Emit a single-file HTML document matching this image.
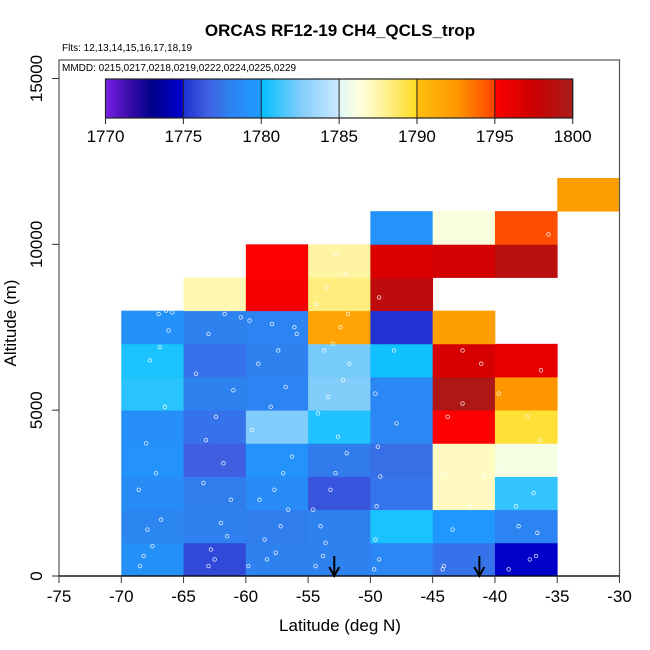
<!DOCTYPE html>
<html><head><meta charset="utf-8"><style>
body{margin:0;background:#fff}
svg{display:block;font-family:"Liberation Sans",sans-serif}
</style></head><body>
<svg id="chart" width="650" height="650" viewBox="0 0 650 650">
<defs>
<linearGradient id="cbgrad" x1="0" x2="1" y1="0" y2="0"></linearGradient>
</defs>
<text x="340" y="36" text-anchor="middle" font-size="17" font-weight="bold">ORCAS RF12-19 CH4_QCLS_trop</text>
<text x="62" y="51" font-size="10">Flts: 12,13,14,15,16,17,18,19</text>
<g id="cells"></g>
<g id="points"></g>
<g id="arrows"></g>
<rect x="59" y="60" width="560.5" height="516" fill="none" stroke="#555" stroke-width="1.2"/>
<text x="62" y="71" font-size="10">MMDD: 0215,0217,0218,0219,0222,0224,0225,0229</text>
<g id="colorbar"></g>
<g id="xaxis"></g>
<g id="yaxis"></g>
<text x="340" y="631" text-anchor="middle" font-size="17">Latitude (deg N)</text>
<text transform="translate(16,323) rotate(-90)" text-anchor="middle" font-size="17">Altitude (m)</text>
</svg>
<script>
const latBins=[-70,-65,-60,-55,-50,-45,-40,-35];
const altBins=[0,1000,2000,3000,4000,5000,6000,7000,8000,9000,10000,11000];
// values[col][row], null = no data
const colM70=[1779.2,1778.3,1778.8,1779.3,1779.0,1780.8,1780.5,1779.2,null,null,null,null];
const colM65=[1775.8,1778.0,1777.8,1776.5,1777.3,1778.0,1777.3,1778.0,1787.3,null,null,null];
const colM60=[1778.0,1777.8,1778.8,1779.3,1782.5,1778.2,1778.0,1778.2,1795.3,1795.2,null,null];
const colM55=[1778.0,1778.0,1776.2,1777.7,1780.6,1782.6,1782.3,1791.8,1788.3,1787.6,null,null];
const colM50=[1778.4,1780.5,1777.4,1777.2,1778.4,1778.4,1780.3,1775.1,1798.5,1796.8,1779.3,null];
const colM45=[1777.3,1779.8,1787.0,1787.0,1795.0,1799.5,1797.0,1792.2,null,1797.2,1786.3,null];
const colM40=[1774.8,1778.2,1781.0,1786.0,1789.6,1792.6,1796.2,null,null,1798.8,1794.7,null];
const colM35=[null,null,null,null,null,null,null,null,null,null,null,1792.2];
const values=[colM70,colM65,colM60,colM55,colM50,colM45,colM40,colM35];
const cbTicks=[1770,1775,1780,1785,1790,1795,1800];
const xTicks=[-75,-70,-65,-60,-55,-50,-45,-40,-35,-30];
const yTicks=[0,5000,10000,15000];
const ptLat=[-68.5,-68.2,-67.5,-66.8,-67.9,-68.6,-67.2,-68.0,-66.5,-67.7,-66.9,-66.2,-67.0,-66.4,-65.9,-63.0,-62.5,-62.8,-61.5,-62.0,-61.2,-63.4,-61.8,-63.2,-62.4,-61.0,-64.0,-63.0,-61.7,-60.4,-59.8,-58.3,-57.6,-58.5,-57.2,-56.6,-58.9,-57.7,-57.0,-56.3,-59.5,-58.0,-56.8,-59.0,-57.4,-56.1,-59.7,-57.9,-55.9,-54.4,-53.8,-53.6,-54.0,-54.6,-53.2,-52.8,-51.9,-52.6,-54.2,-53.4,-52.2,-51.7,-53.0,-52.4,-54.3,-53.5,-52.0,-52.8,-53.7,-51.8,-49.7,-49.3,-49.6,-49.5,-49.2,-49.4,-47.9,-49.6,-48.1,-49.3,-44.1,-43.4,-42.0,-41.2,-40.9,-44.6,-43.8,-42.6,-41.1,-42.6,-38.9,-37.2,-36.6,-38.3,-36.9,-39.5,-36.4,-37.4,-39.7,-36.3,-35.7,-35.8,-44.2,-36.7,-38.1,-44.0];
const ptAlt=[300,600,900,1700,1400,2600,3100,4000,5100,6500,6900,7400,7900,8000,7950,300,500,800,1200,1600,2300,2800,3400,4100,4800,5600,6100,7300,7900,7800,300,500,700,1100,1500,2000,2300,2600,3100,3600,4400,5100,5700,6400,6800,7500,7700,7600,7300,300,600,1000,1500,2000,2600,3100,3700,4200,4900,5400,5900,6400,7000,7500,8200,8700,9100,9700,6800,7900,200,500,1100,2100,3000,3900,4600,5500,6800,8400,300,1400,2100,2400,3000,3900,4800,5200,6400,6800,200,500,1300,2100,2500,3300,4100,4800,5500,6200,10300,11200,200,600,1500,3100];
const arrowLat=[-52.9,-41.25];

const NS='http://www.w3.org/2000/svg';
const X0=59,XS=560.5/45,Y0=576,YS=497.5/15000;
function xs(v){return X0+(v+75)*XS;}
function ys(v){return Y0-v*YS;}
const stops=[[1770,'#7b1fe8'],[1771.5,'#3a0ca8'],[1773,'#00008b'],[1774.95,'#0000cd'],[1775,'#1f2fd2'],[1776.5,'#3f5fe0'],[1778,'#2e82f0'],[1779.95,'#1e9aff'],[1780,'#00bfff'],[1782.5,'#80ccfa'],[1784.95,'#cce8ff'],[1785,'#e0f8f8'],[1786.5,'#ffffd8'],[1788,'#fff090'],[1789.95,'#ffdd22'],[1790,'#ffc010'],[1792.5,'#ff9900'],[1794.95,'#ff4400'],[1795,'#ff0000'],[1797.5,'#cc0000'],[1800,'#a81c1c']];
function hex(c){return [1,3,5].map(i=>parseInt(c.substr(i,2),16));}
function cmap(v){
  if(v<=stops[0][0])return stops[0][1];
  for(let i=1;i<stops.length;i++){if(v<=stops[i][0]){const a=hex(stops[i-1][1]),b=hex(stops[i][1]);const t=(v-stops[i-1][0])/(stops[i][0]-stops[i-1][0]);return 'rgb('+a.map((x,k)=>Math.round(x+(b[k]-x)*t)).join(',')+')';}}
  return stops[stops.length-1][1];
}
function mk(tag,attrs,parent){const e=document.createElementNS(NS,tag);for(const k in attrs)e.setAttribute(k,attrs[k]);parent.appendChild(e);return e;}
const cells=document.getElementById('cells');
values.forEach((col,ci)=>{col.forEach((v,ri)=>{if(v===null)return;
  const x1=xs(latBins[ci]),x2=ci+1<latBins.length?xs(latBins[ci]+5):xs(-30);
  const r=mk('rect',{x:x1,y:ys(altBins[ri]+1000),width:x2-x1+0.4,height:ys(altBins[ri])-ys(altBins[ri]+1000)+0.4,fill:cmap(v)},cells);
  
  
});});
const pts=document.getElementById('points');
ptLat.forEach((la,i)=>{const c=mk('circle',{cx:xs(la),cy:ys(ptAlt[i]),r:1.8,fill:'none',stroke:'#fff','stroke-width':0.8,opacity:0.85},pts);
  
  
});
const arr=document.getElementById('arrows');
arrowLat.forEach(la=>{const g=mk('g',{},arr);
  
  
  const x=xs(la);
  mk('line',{x1:x,y1:556,x2:x,y2:575,stroke:'#000','stroke-width':2},g);
  mk('path',{d:`M${x-5} ${567} L${x} ${576} L${x+5} ${567}`,fill:'none',stroke:'#000','stroke-width':2},g);
});
const cb=document.getElementById('colorbar');
const CB0=105.5,CB1=572.7,CBY=79,CBH=39;
const grad=document.getElementById('cbgrad');
stops.forEach(s=>{mk('stop',{offset:((s[0]-1770)/30*100)+'%','stop-color':s[1]},grad);});
mk('rect',{x:CB0,y:CBY,width:CB1-CB0,height:CBH,fill:'url(#cbgrad)',stroke:'#222','stroke-width':1.2},cb);
cbTicks.forEach(t=>{const x=CB0+(t-1770)/30*(CB1-CB0);
  mk('line',{x1:x,y1:CBY,x2:x,y2:CBY+CBH+6,stroke:'#222','stroke-width':1},cb);
  const tx=mk('text',{x:x,y:142,'text-anchor':'middle','font-size':17},cb);tx.textContent=t;
  
  
});
const xa=document.getElementById('xaxis');
mk('line',{x1:xs(-75),y1:576,x2:xs(-30),y2:576,stroke:'#000','stroke-width':1.2},xa);
xTicks.forEach(t=>{const x=xs(t);mk('line',{x1:x,y1:576,x2:x,y2:583,stroke:'#333'},xa);
  const tx=mk('text',{x:x,y:602,'text-anchor':'middle','font-size':17},xa);tx.textContent=t;
  
  
});
const ya=document.getElementById('yaxis');
yTicks.forEach(t=>{const y=ys(t);mk('line',{x1:52,y1:y,x2:59,y2:y,stroke:'#333'},ya);
  const tx=mk('text',{transform:`translate(42,${y}) rotate(-90)`,'text-anchor':'middle','font-size':17},ya);tx.textContent=t;
  
  
});
</script>
</body></html>
